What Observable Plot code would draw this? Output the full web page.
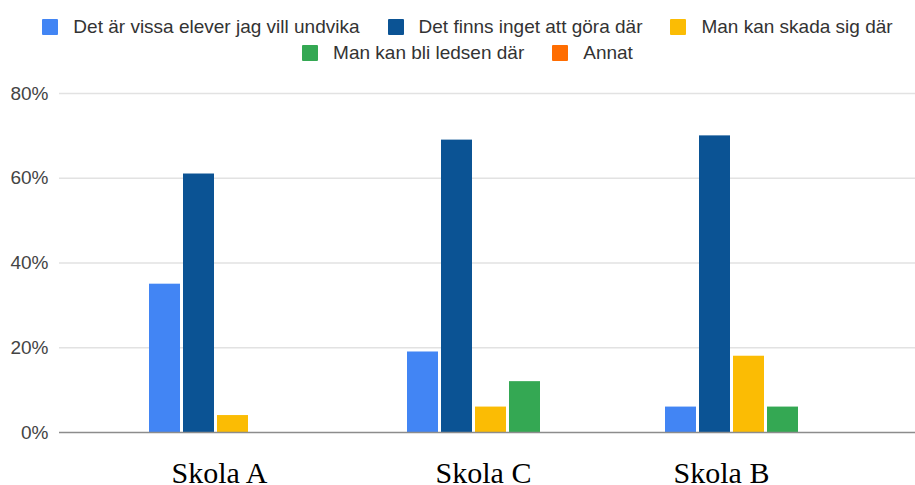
<!DOCTYPE html>
<html><head><meta charset="utf-8">
<script src="https://cdn.jsdelivr.net/npm/d3@7"></script>
<script src="https://cdn.jsdelivr.net/npm/@observablehq/plot@0.6"></script>
<style>
body{margin:0;background:#fff;width:915px;height:485px;overflow:hidden;font-family:"Liberation Sans",Arial,sans-serif;}
#legend{height:70px;box-sizing:border-box;padding-top:14px;padding-left:20px;}
.row{display:flex;justify-content:center;height:26px;align-items:center;}
.item{display:flex;align-items:center;margin:0 14px;font-size:19px;color:#333;white-space:nowrap;}
.sw{width:16px;height:16px;margin-right:15px;border-radius:1px;}
#chart svg{display:block;}
</style></head><body>
<div id="legend"></div><div id="chart"></div>
<script>
const schools = ["Skola A", "Skola C", "Skola B"];
const series = ["Det är vissa elever jag vill undvika", "Det finns inget att göra där", "Man kan skada sig där", "Man kan bli ledsen där", "Annat"];
const colors = ["#4285f4", "#0b5394", "#fbbc04", "#34a853", "#ff6d01"];
const valuesSkolaA = [35, 61, 4, 0, 0];
const valuesSkolaC = [19, 69, 6, 12, 0];
const valuesSkolaB = [6, 70, 18, 6, 0];
const yTicks = [0, 20, 40, 60, 80];

const valuesBySchool = {"Skola A": valuesSkolaA, "Skola C": valuesSkolaC, "Skola B": valuesSkolaB};
const data = schools.flatMap(s => series.map((k, i) => ({school: s, series: k, value: valuesBySchool[s][i]})));

// legend (two rows as in the reference)
const legendRows = [series.slice(0, 3), series.slice(3)];
const legend = document.getElementById("legend");
for (const row of legendRows) {
  const r = document.createElement("div");
  r.className = "row";
  for (const k of row) {
    const it = document.createElement("div");
    it.className = "item";
    const sw = document.createElement("span");
    sw.className = "sw";
    sw.style.background = colors[series.indexOf(k)];
    it.appendChild(sw);
    it.appendChild(document.createTextNode(k));
    r.appendChild(it);
  }
  legend.appendChild(r);
}

const labelShift = {"Skola A": -14, "Skola C": -8, "Skola B": -28};
const firstSchool = schools[0];

const chart = Plot.plot({
  width: 915,
  height: 415,
  marginTop: 23,
  marginBottom: 53,
  marginLeft: 104,
  marginRight: 37,
  style: {fontFamily: "'Liberation Sans', Arial, sans-serif", background: "#fff"},
  fx: {domain: schools, padding: 0, label: null},
  x: {domain: series, paddingInner: 0.088, paddingOuter: 1.338, axis: null},
  y: {domain: [0, 80], label: null},
  color: {domain: series, range: colors},
  marks: [
    // grid + baseline drawn once (in the first facet), extended across the full width
    Plot.ruleY(yTicks.slice(1), {fx: () => firstSchool, stroke: "#e2e2e2", strokeWidth: 1.5, insetLeft: -45, insetRight: -553}),
    Plot.barY(data, {fx: "school", x: "series", y: "value", fill: "series"}),
    Plot.ruleY([0], {fx: () => firstSchool, stroke: "#8c8c8c", strokeWidth: 1.5, insetLeft: -45, insetRight: -553}),
    Plot.axisY({ticks: yTicks, tickFormat: d => d + "%", tickSize: 0, tickPadding: 56, fontSize: 19, fill: "#444", label: null}),
    ...schools.map(s => Plot.axisFx({anchor: "bottom", ticks: [s], tickSize: 0, tickPadding: 29, dx: labelShift[s], fontSize: 30, fontFamily: "'Liberation Serif', 'Times New Roman', serif", fill: "#000", label: null}))
  ]
});
document.getElementById("chart").appendChild(chart);
</script>
</body></html>
